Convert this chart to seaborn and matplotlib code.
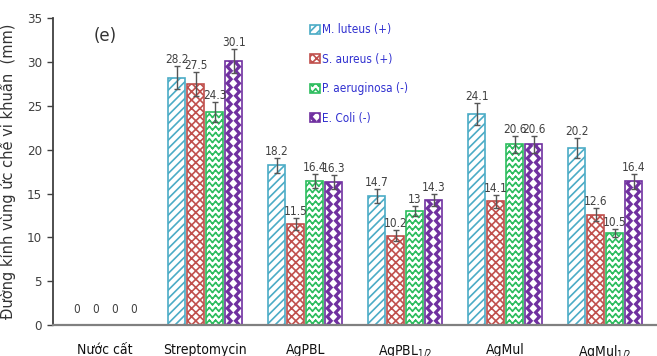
import warnings
import numpy as np
import pandas as pd
import matplotlib
matplotlib.use("Agg")
import matplotlib.pyplot as plt
import matplotlib.hatch as mhatch
import matplotlib.patches as mpatches
import matplotlib.colors as mcolors
from matplotlib.path import Path
from matplotlib import font_manager
import seaborn as sns

warnings.filterwarnings("ignore")

# ---- data -------------------------------------------------------------
groups = ["Nước cất", "Streptomycin", "AgPBL", "AgPBL$_{1/2}$", "AgMul", "AgMul$_{1/2}$"]
strains = ["M. luteus (+)", "S. aureus (+)", "P. aeruginosa (-)", "E. Coli (-)"]

m_luteus = [0, 28.2, 18.2, 14.7, 24.1, 20.2]
s_aureus = [0, 27.5, 11.5, 10.2, 14.1, 12.6]
p_aeruginosa = [0, 24.3, 16.4, 13.0, 20.6, 10.5]
e_coli = [0, 30.1, 16.3, 14.3, 20.6, 16.4]

err_m_luteus = [0, 1.3, 0.9, 0.8, 1.25, 1.1]
err_s_aureus = [0, 1.4, 0.65, 0.6, 0.7, 0.7]
err_p_aeruginosa = [0, 1.1, 0.8, 0.6, 1.0, 0.5]
err_e_coli = [0, 1.4, 0.8, 0.7, 1.0, 0.85]

values = [m_luteus, s_aureus, p_aeruginosa, e_coli]
errors = [err_m_luteus, err_s_aureus, err_p_aeruginosa, err_e_coli]

df = pd.DataFrame({
    "group": np.repeat([groups], len(strains), axis=0).ravel(),
    "strain": np.repeat(strains, len(groups)),
    "value": np.concatenate(values),
})

# ---- extra hatch patterns: zigzag waves and staggered diamonds --------
class ZigzagHatch(mhatch.HatchPatternBase):
    def __init__(self, hatch, density):
        n = hatch.count("~")
        self.rows = 16 * n
        self.periods = 16 * n
        self.num_vertices = self.rows * self.periods * 4

    def set_vertices_and_codes(self, vertices, codes):
        amp = 0.016
        w = 1.0 / self.periods
        k = 0
        for r in range(self.rows):
            y = (r + 0.5) / self.rows
            for p in range(self.periods):
                x = p * w
                vertices[k] = (x, y - amp)
                vertices[k + 1] = (x + w / 2, y + amp)
                vertices[k + 2] = (x + w / 2, y + amp)
                vertices[k + 3] = (x + w, y - amp)
                codes[k] = Path.MOVETO
                codes[k + 1] = Path.LINETO
                codes[k + 2] = Path.MOVETO
                codes[k + 3] = Path.LINETO
                k += 4


class DiamondHatch(mhatch.HatchPatternBase):
    def __init__(self, hatch, density):
        n = hatch.count("^")
        self.centers = []
        if n:
            for j in range(25):
                for i in range(13):
                    if (i + j) % 2 == 0:
                        self.centers.append((i / 12.0, j / 24.0))
        self.num_vertices = len(self.centers) * 5

    def set_vertices_and_codes(self, vertices, codes):
        hx, hy = 0.028, 0.03
        k = 0
        for cx, cy in self.centers:
            vertices[k:k + 5] = [(cx, cy - hy), (cx + hx, cy), (cx, cy + hy),
                                 (cx - hx, cy), (cx, cy - hy)]
            codes[k] = Path.MOVETO
            codes[k + 1:k + 4] = Path.LINETO
            codes[k + 4] = Path.CLOSEPOLY
            k += 5


mhatch._hatch_types.extend([ZigzagHatch, DiamondHatch])

# ---- fonts / style ----------------------------------------------------
sns.set_theme(style="white")
fonts = font_manager.fontManager.ttflist
narrow, stretch = "Liberation Sans", "normal"
for f in fonts:
    cond = (f.stretch in ("condensed", "semi-condensed", "extra-condensed")
            or "Narrow" in f.name or "Condensed" in f.name)
    if cond and f.weight in (400, "normal", "regular") and f.style == "normal":
        narrow, stretch = f.name, f.stretch
        if "Sans" in f.name:
            break
plt.rcParams["font.family"] = [narrow, "DejaVu Sans"]
plt.rcParams["font.stretch"] = stretch
plt.rcParams["mathtext.fontset"] = "custom"
plt.rcParams["mathtext.rm"] = narrow
plt.rcParams["mathtext.it"] = narrow
plt.rcParams["hatch.linewidth"] = 1.2

colors = ["#4bacc6", "#c0504d", "#2ebd5f", "#7030a0"]
hatches = ["////", "xxxx", "~", "^"]

fig = plt.figure(figsize=(6.57, 3.56), dpi=100)
ax = fig.add_axes([0.081, 0.087, 0.919, 0.862])

sns.barplot(data=df, x="group", y="value", hue="strain", order=groups,
            hue_order=strains, palette=colors, width=0.76, gap=0.1,
            errorbar=None, legend=False, ax=ax)

handles = []
for cont, col, hat, errs, label in zip(ax.containers, colors, hatches, errors, strains):
    for bar, e in zip(cont.patches, errs):
        bar.set_facecolor(col if hat == "^" else "white")
        bar.set_edgecolor(col)
        bar.set_linewidth(1.2)
        bar.set_hatch(hat)
        if hat == "^":
            bar._hatch_color = mcolors.to_rgba("white")
        h = bar.get_height()
        if h == 0:
            bar.set_visible(False)
        xc = bar.get_x() + bar.get_width() / 2
        if e > 0:
            ax.errorbar(xc, h, yerr=e, color="#555555", capsize=2.2,
                        elinewidth=1.0, capthick=1.0, zorder=5)
        ax.text(xc, max(h + e, 1.0), f"{h:g}", ha="center", va="bottom",
                fontsize=8.5, color="#404040", zorder=6)
    hd = mpatches.Patch()
    hd.update_from(cont.patches[1])
    hd.set_label(label)
    hd.set_visible(True)
    handles.append(hd)

ax.legend(handles=handles, loc="upper left", bbox_to_anchor=(0.472, 0.935),
          bbox_transform=fig.transFigure, frameon=False, handlelength=0.8,
          handleheight=0.8, handletextpad=0.25, labelspacing=1.4,
          borderpad=0, borderaxespad=0, labelcolor="#3030d0", fontsize=8.5)

ax.set_ylim(0, 35)
ax.set_xlim(-0.52, 5.52)
ax.set_yticks(range(0, 36, 5))
ax.set_xlabel("")
ax.set_ylabel("Đường kính vùng ức chế vi khuẩn  (mm)", family=["DejaVu Sans"],
              stretch="normal", fontsize=10.5, color="#333333", labelpad=8)

ax.tick_params(axis="y", which="major", left=True, length=4, width=1.0,
               color="#404040", labelsize=9.5, labelcolor="#404040", pad=4)
ax.tick_params(axis="x", bottom=False, labelsize=10, labelcolor="#111111", pad=7)

for side in ["top", "right"]:
    ax.spines[side].set_visible(False)
ax.spines["left"].set_color("#404040")
ax.spines["left"].set_linewidth(1.3)
ax.spines["bottom"].set_color("#808080")
ax.spines["bottom"].set_linewidth(1.6)

ax.text(0.0, 33.0, "(e)", ha="center", va="center", fontsize=12,
        color="#333333", family=["DejaVu Sans"], stretch="normal")

fig.savefig("out.png", dpi=100)
